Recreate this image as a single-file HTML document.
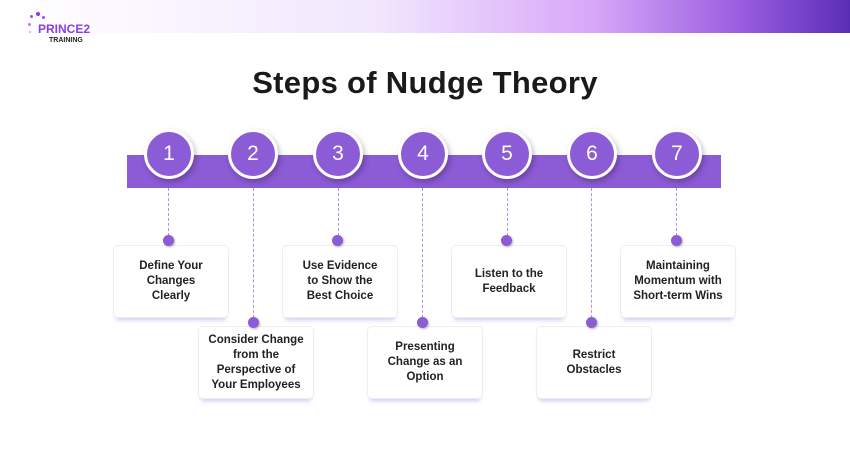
<!DOCTYPE html>
<html><head><style>
body{margin:0;width:850px;height:450px;background:#fff;position:relative;overflow:hidden;font-family:"Liberation Sans",sans-serif}
.hdr{position:absolute;left:0;top:0;width:850px;height:33px;background:linear-gradient(90deg,#fff 0%,#faf5ff 20%,#f1e6fd 45%,#d7a6f8 70%,#9a5ee0 87%,#5a2db6 100%)}
.bar{position:absolute;left:127px;top:155px;width:594px;height:33px;background:#8c5bd6}
.c{position:absolute;width:44px;height:44px;border-radius:50%;background:#8c5bd6;border:3px solid #fff;box-shadow:2px 3px 6px rgba(0,0,0,.25);color:#fff;font-size:21px;text-align:center;line-height:44px;top:129px}
.ln{position:absolute;width:0;border-left:1.5px dashed #b98ee8;top:188px}
.dot{position:absolute;width:11px;height:11px;border-radius:50%;background:#8c5bd6;box-shadow:1px 1px 2px rgba(0,0,0,.3)}
.bx{position:absolute;width:114px;height:71px;border:1px solid #eee;border-radius:5px;background:#fff;box-shadow:0 5px 4px -3px rgba(160,110,230,.4);display:flex;align-items:center;justify-content:center;text-align:center;font-size:11.5px;font-weight:bold;color:#222;line-height:15px}
</style></head><body>
<div class="hdr"></div>
<div style="position:absolute;left:38px;top:22px;font-weight:bold;color:#8a3ee0;font-size:12px">PRINCE2</div>
<div style="position:absolute;left:49px;top:37px;font-weight:bold;color:#222;font-size:7px">TRAINING</div>
<div style="position:absolute;left:28px;top:12px;width:22px;height:30px;">
<span style="position:absolute;left:8px;top:0;width:4px;height:4px;border-radius:50%;background:#8a3ee0"></span>
<span style="position:absolute;left:2px;top:3px;width:3px;height:3px;border-radius:50%;background:#9b55e6"></span>
<span style="position:absolute;left:14px;top:4px;width:3px;height:3px;border-radius:50%;background:#9b55e6"></span>
<span style="position:absolute;left:0;top:11px;width:3px;height:3px;border-radius:50%;background:#b27ff0"></span>
<span style="position:absolute;left:1px;top:19px;width:2px;height:2px;border-radius:50%;background:#c49cf2"></span>
</div>
<div style="position:absolute;left:0;top:65px;width:850px;text-align:center;font-size:31px;font-weight:bold;color:#1a1a1a;letter-spacing:0.3px">Steps of Nudge Theory</div>
<div class="bar"></div>
<div class="ln" style="left:168px;height:53px"></div>
<div class="ln" style="left:253px;height:135px"></div>
<div class="ln" style="left:338px;height:53px"></div>
<div class="ln" style="left:422px;height:135px"></div>
<div class="ln" style="left:507px;height:53px"></div>
<div class="ln" style="left:591px;height:135px"></div>
<div class="ln" style="left:676px;height:53px"></div>
<div class="c" style="left:144px">1</div>
<div class="c" style="left:228px">2</div>
<div class="c" style="left:313px">3</div>
<div class="c" style="left:398px">4</div>
<div class="c" style="left:482px">5</div>
<div class="c" style="left:567px">6</div>
<div class="c" style="left:652px">7</div>
<div class="bx" style="left:113px;top:245px">Define Your<br>Changes<br>Clearly</div>
<div class="bx" style="left:198px;top:326px">Consider Change<br>from the<br>Perspective of<br>Your Employees</div>
<div class="bx" style="left:282px;top:245px">Use Evidence<br>to Show the<br>Best Choice</div>
<div class="bx" style="left:367px;top:326px">Presenting<br>Change as an<br>Option</div>
<div class="bx" style="left:451px;top:245px">Listen to the<br>Feedback</div>
<div class="bx" style="left:536px;top:326px">Restrict<br>Obstacles</div>
<div class="bx" style="left:620px;top:245px">Maintaining<br>Momentum with<br>Short-term Wins</div>
<div class="dot" style="left:163px;top:235px"></div>
<div class="dot" style="left:248px;top:317px"></div>
<div class="dot" style="left:332px;top:235px"></div>
<div class="dot" style="left:417px;top:317px"></div>
<div class="dot" style="left:501px;top:235px"></div>
<div class="dot" style="left:586px;top:317px"></div>
<div class="dot" style="left:671px;top:235px"></div>
</body></html>
